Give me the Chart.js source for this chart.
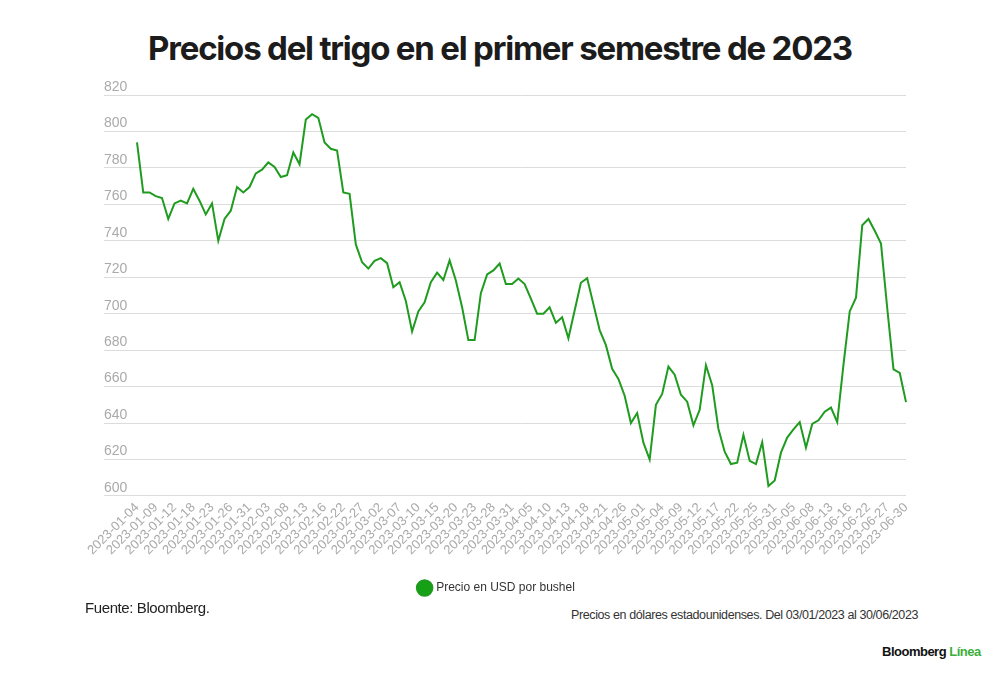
<!DOCTYPE html>
<html lang="es">
<head>
<meta charset="utf-8">
<title>Precios del trigo en el primer semestre de 2023</title>
<script src="https://cdn.jsdelivr.net/npm/chart.js@4.4.0/dist/chart.umd.min.js"></script>
<style>
  body { margin: 0; background: #fff; }
  #wrap { position: relative; width: 1000px; height: 679px; overflow: hidden; font-family: "Liberation Sans", Arial, sans-serif; }
  h1 { position: absolute; left: 0; top: 28px; width: 1000px; margin: 0; text-align: center;
       font-family: Inter, sans-serif; font-weight: 700; font-size: 33px; line-height: 40px;
       letter-spacing: -1.2px; color: #1c1c1c; }
  #chartBox { position: absolute; left: 0; top: 0; width: 1000px; height: 604px; }
  .note { position: absolute; white-space: nowrap; }
  #fuente { left: 85px; top: 599px; font-size: 15px; line-height: 18px; letter-spacing: -0.4px; color: #222; }
  #rango { right: 82px; top: 607px; font-size: 12.5px; line-height: 16px; letter-spacing: -0.4px; color: #333; }
  #marca { left: 882px; top: 644px; font-size: 13px; line-height: 16px; font-weight: 700; letter-spacing: -0.5px; color: #111; }
  #marca span { color: #3dae3d; }
</style>
</head>
<body>
<div id="wrap">
  <h1>Precios del trigo en el primer semestre de 2023</h1>
  <div id="chartBox"><canvas id="chart"></canvas></div>
  <div class="note" id="fuente">Fuente: Bloomberg.</div>
  <div class="note" id="rango">Precios en dólares estadounidenses. Del 03/01/2023 al 30/06/2023</div>
  <div class="note" id="marca">Bloomberg <span>Línea</span></div>
</div>
<script>
// fechas de cotización (días hábiles)
const fechas = [
  "2023-01-04","2023-01-05","2023-01-06","2023-01-09","2023-01-10","2023-01-11","2023-01-12","2023-01-13","2023-01-17","2023-01-18",
  "2023-01-19","2023-01-20","2023-01-23","2023-01-24","2023-01-25","2023-01-26","2023-01-27","2023-01-30","2023-01-31",
  "2023-02-01","2023-02-02","2023-02-03","2023-02-06","2023-02-07","2023-02-08","2023-02-09","2023-02-10","2023-02-13","2023-02-14",
  "2023-02-15","2023-02-16","2023-02-17","2023-02-21","2023-02-22","2023-02-23","2023-02-24","2023-02-27","2023-02-28",
  "2023-03-01","2023-03-02","2023-03-03","2023-03-06","2023-03-07","2023-03-08","2023-03-09","2023-03-10","2023-03-13","2023-03-14",
  "2023-03-15","2023-03-16","2023-03-17","2023-03-20","2023-03-21","2023-03-22","2023-03-23","2023-03-24","2023-03-27","2023-03-28",
  "2023-03-29","2023-03-30","2023-03-31",
  "2023-04-03","2023-04-04","2023-04-05","2023-04-06","2023-04-07","2023-04-10","2023-04-11","2023-04-12","2023-04-13","2023-04-14",
  "2023-04-17","2023-04-18","2023-04-19","2023-04-20","2023-04-21","2023-04-24","2023-04-25","2023-04-26","2023-04-27","2023-04-28",
  "2023-05-01","2023-05-02","2023-05-03","2023-05-04","2023-05-05","2023-05-08","2023-05-09","2023-05-10","2023-05-11","2023-05-12",
  "2023-05-15","2023-05-16","2023-05-17","2023-05-18","2023-05-19","2023-05-22","2023-05-23","2023-05-24","2023-05-25","2023-05-26",
  "2023-05-30","2023-05-31",
  "2023-06-01","2023-06-02","2023-06-05","2023-06-06","2023-06-07","2023-06-08","2023-06-09","2023-06-12","2023-06-13","2023-06-14",
  "2023-06-15","2023-06-16","2023-06-20","2023-06-21","2023-06-22","2023-06-23","2023-06-26","2023-06-27","2023-06-28","2023-06-29",
  "2023-06-30"
];

// precio en USD por bushel (centavos)
const precios = [
  794, 766.5, 766.5, 764.5, 763.5, 752, 760.5, 762, 760.5, 768.5,
  762, 754.5, 760.5, 740, 752, 756.5, 769.5, 766.5, 769.5, 777,
  779, 783, 780.5, 775, 776, 788.5, 782, 806.5, 809.5, 807.5,
  794, 790.5, 789.5, 766.5, 765.75, 738, 728.25, 724.75, 729, 730.5,
  727.75, 714.5, 717.25, 707, 690.25, 701.25, 706.25, 717.25, 722.5, 718.5,
  729.25, 718.25, 703.5, 685.5, 685.5, 711.25, 721.5, 723.75, 727.5, 716.25,
  716.25, 719.25, 716.25, 708.25, 700, 700, 703.5, 695, 698, 686.5,
  701.75, 717, 719.5, 705.25, 691, 682.75, 669.75, 664.25, 655, 640,
  645.5, 629.25, 620, 650, 656, 671, 666.5, 655.5, 651.75, 638.75,
  647.25, 671.75, 660.75, 636.75, 624.25, 617.5, 618.25, 633.5, 619.25, 617.5,
  629.5, 605.5, 608.5, 623.75, 632, 636.5, 640.5, 626.5, 639.5, 641.5,
  646.25, 648.5, 640.5, 672, 701.25, 708.75, 748.5, 752, 745.5, 738.5,
  703, 669.5, 667.5, 651.5
];

const serieNombre = "Precio en USD por bushel";
const yMin = 600, yMax = 820, yPaso = 20;
const cadaN = 3; // una etiqueta de fecha cada 3 sesiones

const verde = "#1f9b1f";

// la leyenda del original está algo a la izquierda del centro
const moverLeyenda = {
  id: "moverLeyenda",
  afterLayout(chart) {
    const l = chart.legend;
    if (!l) return;
    l.left -= 8;
    l.right -= 8;
  }
};

new Chart(document.getElementById("chart"), {
  type: "line",
  data: {
    labels: fechas,
    datasets: [{
      label: serieNombre,
      data: precios,
      borderColor: verde,
      backgroundColor: "#15a015",
      borderWidth: 2,
      pointRadius: 0,
      tension: 0,
      fill: false
    }]
  },
  options: {
    responsive: true,
    maintainAspectRatio: false,
    animation: false,
    layout: { padding: { left: 104, right: 94, top: 95, bottom: 0 } },
    plugins: {
      legend: {
        position: "bottom",
        labels: {
          usePointStyle: true,
          pointStyle: "circle",
          boxWidth: 11,
          boxHeight: 11,
          padding: 20,
          color: "#333",
          font: { family: "'Liberation Sans', Arial, sans-serif", size: 12 }
        }
      },
      tooltip: { enabled: false }
    },
    scales: {
      x: {
        grid: { display: false, drawTicks: false },
        border: { display: false },
        ticks: {
          autoSkip: false,
          minRotation: 45,
          maxRotation: 45,
          padding: 4,
          color: "#aaa",
          font: { family: "'Liberation Sans', Arial, sans-serif", size: 13 },
          callback: function (v, i) { return i % cadaN === 0 ? this.getLabelForValue(v) : ""; }
        }
      },
      y: {
        min: yMin,
        max: yMax,
        border: { display: false },
        grid: { color: "#dcdcdc", lineWidth: 1, tickLength: 33 },
        afterFit: s => { s.width = 33; },
        ticks: {
          stepSize: yPaso,
          crossAlign: "far",
          labelOffset: -8,
          padding: 0,
          color: "#aaa",
          font: { family: "'Liberation Sans', Arial, sans-serif", size: 14 }
        }
      }
    }
  },
  plugins: [moverLeyenda]
});
</script>
</body>
</html>
